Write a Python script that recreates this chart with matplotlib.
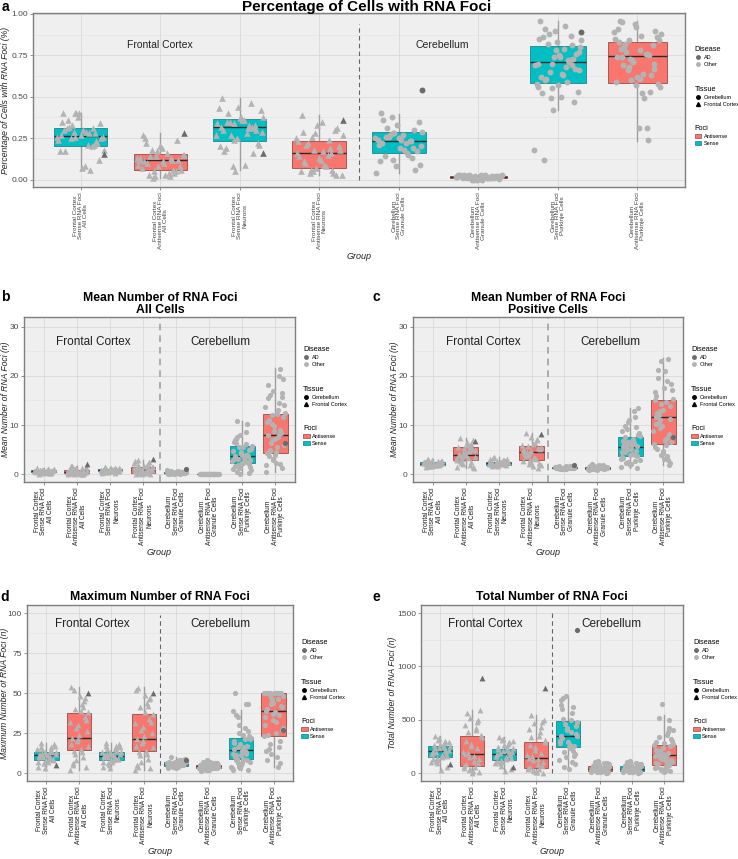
import matplotlib
matplotlib.use("Agg")
import matplotlib.pyplot as plt
from matplotlib import font_manager
from matplotlib.lines import Line2D
from matplotlib.patches import Patch
from matplotlib.ticker import MultipleLocator

_names = {f.name for f in font_manager.fontManager.ttflist}
BASE_FONT = 'Liberation Sans' if 'Liberation Sans' in _names else 'DejaVu Sans'
NARROW_FONT = 'Liberation Sans Narrow' if 'Liberation Sans Narrow' in _names else BASE_FONT
plt.rcParams['font.family'] = [BASE_FONT, 'DejaVu Sans']

# groups (same order in every panel)
group_labels = [
    "Frontal Cortex\nSense RNA Foci\nAll Cells",
    "Frontal Cortex\nAntisense RNA Foci\nAll Cells",
    "Frontal Cortex\nSense RNA Foci\nNeurons",
    "Frontal Cortex\nAntisense RNA Foci\nNeurons",
    "Cerebellum\nSense RNA Foci\nGranule Cells",
    "Cerebellum\nAntisense RNA Foci\nGranule Cells",
    "Cerebellum\nSense RNA Foci\nPurkinje Cells",
    "Cerebellum\nAntisense RNA Foci\nPurkinje Cells",
]
foci = ["Sense", "Antisense"] * 4
tissue = ["Frontal Cortex"] * 4 + ["Cerebellum"] * 4

# ---- panel a: percentage of cells with RNA foci ----
a_med = [0.263, 0.12, 0.317, 0.16, 0.235, 0.015, 0.711, 0.745]
a_q1 = [0.205, 0.056, 0.235, 0.07, 0.16, 0.01, 0.582, 0.586]
a_q3 = [0.311, 0.155, 0.367, 0.235, 0.285, 0.02, 0.807, 0.831]
a_lo = [0.056, 0.01, 0.056, 0.03, 0.04, 0.0, 0.42, 0.23]
a_hi = [0.40, 0.28, 0.49, 0.39, 0.395, 0.03, 0.96, 0.96]
a_pts = [
    [0.40, 0.31, 0.26, 0.18, 0.29, 0.36, 0.22, 0.40, 0.27, 0.06, 0.33, 0.25, 0.30, 0.17, 0.28, 0.40, 0.24, 0.21, 0.32,
     0.12, 0.27, 0.35, 0.20, 0.29, 0.26, 0.08, 0.31, 0.23, 0.38, 0.17, 0.28, 0.25, 0.34, 0.07, 0.30, 0.21, 0.40, 0.26],
    [0.27, 0.12, 0.05, 0.15, 0.03, 0.10, 0.24, 0.08, 0.13, 0.02, 0.18, 0.06, 0.11, 0.25, 0.04, 0.14, 0.09, 0.16, 0.03,
     0.12, 0.20, 0.07, 0.13, 0.01, 0.15, 0.10, 0.22, 0.05, 0.17, 0.12, 0.04, 0.14, 0.08, 0.19, 0.11, 0.06, 0.02, 0.13],
    [0.49, 0.32, 0.24, 0.38, 0.09, 0.35, 0.30, 0.44, 0.20, 0.33, 0.27, 0.42, 0.36, 0.17, 0.31, 0.05, 0.34, 0.28, 0.40,
     0.22, 0.37, 0.32, 0.46, 0.08, 0.29, 0.36, 0.19, 0.33, 0.25, 0.43, 0.31, 0.35, 0.21, 0.38, 0.30, 0.16, 0.34, 0.27],
    [0.39, 0.16, 0.05, 0.27, 0.09, 0.21, 0.03, 0.33, 0.14, 0.24, 0.06, 0.18, 0.35, 0.11, 0.04, 0.28, 0.16, 0.08, 0.22,
     0.31, 0.13, 0.05, 0.19, 0.26, 0.03, 0.17, 0.10, 0.30, 0.07, 0.23, 0.15, 0.04, 0.20, 0.12, 0.29, 0.06, 0.18, 0.25],
    [0.40, 0.23, 0.12, 0.29, 0.18, 0.26, 0.06, 0.33, 0.21, 0.15, 0.27, 0.09, 0.24, 0.36, 0.19, 0.28, 0.04, 0.22, 0.31,
     0.17, 0.25, 0.11, 0.23, 0.38, 0.20, 0.27, 0.14, 0.30, 0.08, 0.24, 0.16, 0.26, 0.35, 0.19, 0.22, 0.13, 0.28, 0.25],
    [0.02, 0.01, 0.00, 0.03, 0.01, 0.02, 0.015, 0.00, 0.025, 0.01, 0.02, 0.005, 0.03, 0.01, 0.02, 0.00, 0.015, 0.025,
     0.01, 0.02, 0.005, 0.03, 0.015, 0.01, 0.02, 0.00, 0.025, 0.01, 0.02, 0.015, 0.01, 0.03, 0.02, 0.005, 0.015, 0.01],
    [0.96, 0.72, 0.55, 0.84, 0.63, 0.91, 0.47, 0.78, 0.70, 0.59, 0.88, 0.66, 0.74, 0.52, 0.81, 0.42, 0.69, 0.93, 0.61,
     0.76, 0.57, 0.85, 0.71, 0.49, 0.80, 0.64, 0.12, 0.73, 0.90, 0.58, 0.68, 0.82, 0.53, 0.75, 0.62, 0.87, 0.70, 0.18,
     0.79, 0.60, 0.67, 0.83, 0.56, 0.72, 0.65, 0.77, 0.50, 0.86, 0.69, 0.74],
    [0.96, 0.75, 0.60, 0.88, 0.52, 0.80, 0.67, 0.92, 0.74, 0.31, 0.84, 0.58, 0.78, 0.95, 0.63, 0.71, 0.85, 0.49, 0.77,
     0.90, 0.62, 0.83, 0.24, 0.73, 0.56, 0.87, 0.69, 0.81, 0.94, 0.59, 0.76, 0.66, 0.86, 0.31, 0.79, 0.53, 0.72, 0.89,
     0.64, 0.82, 0.70, 0.57, 0.91, 0.76, 0.68, 0.84, 0.61, 0.74],
]
a_ad = [[0.155], [0.28], [0.16], [0.36], [0.54], [], [0.89], []]

# ---- panel b: mean number of foci, all cells ----
b_med = [0.6, 0.4, 0.8, 0.8, 0.3, 0.05, 3.7, 7.9]
b_q1 = [0.4, 0.2, 0.6, 0.3, 0.2, 0.02, 2.3, 4.4]
b_q3 = [0.8, 0.9, 1.0, 1.4, 0.45, 0.07, 5.75, 12.2]
b_lo = [0.1, 0.0, 0.2, 0.0, 0.0, 0.0, 0.0, 0.5]
b_hi = [1.2, 1.7, 1.5, 2.9, 0.8, 0.1, 10.9, 21.7]
b_pts = [
    [0.6, 0.9, 0.3, 1.1, 0.5, 0.7, 0.2, 0.8, 0.6, 1.0, 0.4, 0.7, 0.5, 1.2, 0.3, 0.8, 0.6, 0.9, 0.1, 0.7, 0.5, 0.4, 1.0,
     0.6, 0.8, 0.3, 0.7, 0.5, 0.9, 0.6, 0.4, 0.8],
    [0.4, 1.2, 0.1, 0.8, 0.3, 1.6, 0.2, 0.5, 0.9, 0.0, 0.6, 1.4, 0.3, 0.7, 0.1, 1.0, 0.4, 0.2, 1.7, 0.5, 0.9, 0.3, 0.0,
     1.1, 0.4, 0.2, 0.8, 0.6, 1.3, 0.1, 0.5, 0.3],
    [0.8, 1.2, 0.5, 1.0, 0.7, 1.4, 0.6, 0.9, 0.3, 1.1, 0.8, 0.6, 1.3, 0.7, 1.0, 0.4, 0.9, 0.8, 1.5, 0.6, 1.0, 0.7, 0.2,
     0.9, 1.2, 0.8, 0.5, 1.1, 0.7, 0.9, 0.6, 1.0],
    [0.8, 2.1, 0.2, 1.4, 0.5, 2.8, 0.1, 1.1, 0.6, 1.9, 0.3, 0.9, 1.6, 0.0, 2.4, 0.7, 1.2, 0.4, 1.8, 0.8, 0.2, 2.6, 1.0,
     0.5, 1.5, 0.3, 1.3, 0.9, 0.1, 2.2, 0.6, 1.4],
    [0.3, 0.5, 0.1, 0.4, 0.2, 0.7, 0.3, 0.2, 0.6, 0.0, 0.4, 0.3, 0.5, 0.1, 0.3, 0.2, 0.8, 0.4, 0.3, 0.2, 0.5, 0.1, 0.4,
     0.3, 0.2, 0.6, 0.3, 0.4, 0.1, 0.5, 0.2, 0.3, 0.4, 0.2, 0.3, 0.5],
    [0.05, 0.02, 0.08, 0.0, 0.04, 0.1, 0.03, 0.06, 0.01, 0.05, 0.07, 0.02, 0.04, 0.09, 0.0, 0.05, 0.03, 0.06, 0.02, 0.08,
     0.04, 0.01, 0.05, 0.03, 0.07, 0.0, 0.04, 0.06, 0.02, 0.05, 0.03, 0.08, 0.01, 0.04, 0.06, 0.03],
    [3.7, 10.3, 1.2, 5.8, 2.5, 7.6, 0.3, 4.2, 3.0, 8.5, 1.8, 5.1, 2.2, 6.4, 3.6, 0.0, 4.8, 2.7, 10.9, 1.5, 3.9, 6.9, 2.4,
     5.5, 0.8, 3.3, 7.2, 2.0, 4.5, 1.0, 6.1, 3.1, 2.9, 5.6, 1.6, 4.0, 8.0, 2.6, 3.5, 0.5, 5.0, 2.3, 6.6, 3.8, 1.3],
    [7.9, 21.4, 3.0, 12.5, 5.6, 16.2, 1.2, 9.8, 4.3, 19.9, 6.9, 14.0, 2.3, 11.0, 8.4, 17.0, 0.5, 13.1, 4.8, 19.3, 7.1,
     15.5, 2.0, 10.2, 5.9, 12.2, 3.6, 16.5, 8.8, 1.8, 14.5, 6.4, 11.6, 4.5, 18.2, 9.0, 2.8, 13.6, 7.5, 5.0, 15.8, 3.9,
     10.7, 8.1, 12.0],
]
b_ad = [[], [2.0], [], [3.1], [1.0], [], [], [6.3]]

# ---- panel c: mean number of foci, positive cells ----
c_med = [2.1, 4.0, 2.2, 4.5, 1.3, 1.3, 5.6, 11.7]
c_q1 = [1.9, 2.8, 1.9, 2.9, 1.2, 1.1, 3.6, 6.1]
c_q3 = [2.4, 5.5, 2.5, 5.7, 1.4, 1.4, 7.6, 15.1]
c_lo = [1.5, 1.2, 1.6, 1.2, 1.0, 0.9, 1.2, 1.9]
c_hi = [3.0, 7.3, 3.4, 8.4, 1.7, 2.0, 13.4, 23.7]
c_pts = [
    [2.1, 2.6, 1.7, 2.3, 1.9, 2.9, 2.0, 1.6, 2.4, 2.2, 1.8, 2.7, 2.1, 1.5, 2.5, 2.0, 2.3, 1.9, 3.0, 2.2, 1.8, 2.4, 2.0,
     1.7, 2.6, 2.1, 2.3, 1.9, 2.8, 2.2, 1.8, 2.4],
    [4.0, 6.2, 2.1, 5.0, 3.2, 7.3, 1.5, 4.6, 2.8, 5.8, 3.6, 1.2, 6.6, 4.2, 2.5, 5.4, 3.0, 4.9, 2.2, 7.0, 3.8, 5.6, 1.8,
     4.4, 3.4, 6.0, 2.6, 5.2, 3.9, 1.4, 4.8, 3.1],
    [2.2, 2.8, 1.8, 2.5, 2.0, 3.3, 2.3, 1.7, 2.6, 2.1, 1.9, 3.0, 2.4, 1.6, 2.2, 2.7, 2.0, 2.5, 3.4, 1.9, 2.3, 2.1, 2.9,
     1.8, 2.4, 2.2, 2.0, 2.6, 1.9, 3.1, 2.3, 2.1],
    [4.5, 7.2, 2.0, 5.6, 3.3, 8.4, 1.2, 4.8, 2.7, 6.4, 3.8, 5.2, 1.6, 4.1, 6.9, 2.9, 5.9, 3.5, 4.6, 2.3, 7.6, 5.0, 3.0,
     4.3, 1.8, 6.1, 3.7, 5.4, 2.5, 4.9, 3.2, 5.7],
    [1.3, 1.5, 1.1, 1.4, 1.2, 1.6, 1.3, 1.0, 1.4, 1.2, 1.3, 1.5, 1.1, 1.3, 1.7, 1.2, 1.4, 1.3, 1.1, 1.5, 1.2, 1.3, 1.4,
     1.0, 1.3, 1.6, 1.2, 1.4, 1.1, 1.3, 1.5, 1.2, 1.3, 1.4, 1.2, 1.3],
    [1.3, 1.7, 1.0, 1.4, 1.2, 2.0, 1.1, 1.5, 0.9, 1.3, 1.6, 1.2, 1.4, 1.0, 1.8, 1.3, 1.1, 1.5, 1.2, 1.4, 0.9, 1.3, 1.6,
     1.1, 1.2, 1.9, 1.4, 1.0, 1.3, 1.5, 1.2, 1.1, 1.4, 1.3, 1.7, 1.2],
    [5.6, 11.6, 2.4, 7.8, 4.2, 9.8, 1.2, 6.5, 3.5, 12.9, 5.0, 8.4, 2.0, 6.1, 4.8, 10.6, 3.0, 7.2, 5.4, 13.4, 1.8, 6.8,
     4.0, 9.1, 2.8, 5.9, 7.5, 3.7, 11.0, 4.5, 6.3, 2.2, 8.0, 5.2, 3.3, 9.5, 6.0, 1.5, 7.0, 4.6, 5.8, 3.9, 8.7, 2.6, 6.6],
    [11.7, 23.5, 4.0, 15.4, 7.0, 21.2, 2.2, 13.1, 5.6, 19.0, 9.4, 17.2, 3.0, 12.4, 8.2, 23.0, 6.1, 14.6, 10.5, 18.3,
     4.8, 16.0, 2.9, 11.0, 7.6, 21.0, 5.2, 13.8, 9.9, 15.0, 3.6, 12.0, 6.6, 17.6, 10.2, 1.9, 14.2, 8.8, 5.9, 19.5, 11.3,
     4.4, 16.7, 7.3, 12.8],
]
c_ad = [[], [6.8], [], [8.2], [1.8], [], [], [7.6]]

# ---- panel d: maximum number of foci ----
d_med = [11.3, 21.9, 10.8, 21.3, 5.6, 4.2, 14.6, 38.8]
d_q1 = [8.3, 14.6, 8.3, 13.5, 4.2, 3.1, 8.75, 22.9]
d_q3 = [13.3, 37.5, 13.3, 36.9, 6.7, 5.2, 21.9, 50.0]
d_lo = [3, 2, 3, 2, 3, 1, 2, 4]
d_hi = [19, 54, 19, 54, 10, 8, 39.6, 50]
d_pts = [
    [11, 16, 6, 13, 9, 19, 8, 12, 4, 14, 10, 17, 7, 11, 13, 3, 15, 9, 12, 18, 8, 10, 14, 6, 12, 11, 16, 9, 13, 7, 10, 15],
    [22, 45, 8, 38, 15, 52, 4, 30, 18, 41, 12, 26, 48, 6, 35, 20, 2, 43, 14, 33, 24, 54, 10, 28, 17, 39, 5, 47, 21, 32,
     13, 40],
    [11, 17, 5, 13, 8, 19, 9, 12, 4, 15, 10, 16, 7, 11, 14, 3, 13, 9, 12, 18, 8, 10, 14, 6, 12, 11, 17, 9, 13, 7, 10, 15],
    [21, 46, 7, 37, 14, 53, 3, 29, 17, 42, 11, 25, 49, 5, 34, 19, 2, 44, 13, 32, 23, 52, 9, 27, 16, 38, 4, 47, 20, 31,
     12, 41],
    [6, 8, 4, 7, 5, 10, 5, 6, 3, 7, 4, 9, 6, 5, 7, 4, 6, 8, 5, 6, 3, 7, 5, 6, 9, 4, 6, 5, 7, 4, 6, 5, 8, 5, 6, 7],
    [4, 6, 2, 5, 3, 7, 4, 5, 1, 4, 3, 6, 5, 2, 4, 8, 3, 5, 4, 6, 2, 4, 3, 5, 4, 7, 3, 4, 2, 5, 4, 6, 3, 5, 4, 3],
    [15, 43, 4, 22, 9, 36, 2, 18, 12, 28, 6, 21, 14, 50, 8, 25, 3, 16, 11, 43, 5, 20, 13, 35, 7, 24, 10, 17, 3, 39, 14,
     9, 23, 6, 19, 12, 30, 4, 15, 8, 26, 11, 2, 21, 16],
    [39, 50, 12, 48, 25, 50, 6, 44, 30, 50, 18, 41, 50, 8, 36, 46, 23, 50, 15, 42, 33, 50, 4, 47, 28, 38, 50, 20, 45, 35,
     10, 49, 27, 50, 40, 16, 43, 50, 32, 24, 50, 37, 14, 46, 50],
]
d_ad = [[5], [50], [], [50], [8], [], [], [27]]

# ---- panel e: total number of foci ----
e_med = [210, 182, 182, 144, 345, 35, 35, 170]
e_q1 = [150, 66, 125, 47, 245, 16, 16, 78]
e_q3 = [251, 345, 229, 292, 486, 63, 63, 267]
e_lo = [30, 0, 20, 0, 40, 0, 0, 10]
e_hi = [350, 590, 340, 545, 720, 110, 110, 543]
e_pts = [
    [210, 300, 120, 250, 170, 350, 60, 230, 190, 280, 140, 220, 30, 260, 180, 310, 100, 240, 200, 160, 270, 130, 215,
     90, 290, 150, 235, 205, 330, 175, 245, 110],
    [180, 480, 40, 340, 110, 560, 10, 250, 70, 420, 150, 590, 20, 300, 90, 520, 200, 60, 380, 130, 0, 450, 230, 30, 360,
     160, 80, 500, 270, 50, 400, 190],
    [180, 290, 100, 230, 150, 340, 40, 210, 160, 270, 120, 195, 20, 245, 170, 310, 90, 220, 185, 140, 260, 110, 200, 70,
     300, 130, 225, 175, 320, 155, 240, 95],
    [145, 430, 20, 290, 80, 545, 0, 220, 50, 380, 120, 500, 10, 260, 70, 470, 170, 35, 340, 100, 5, 410, 190, 25, 310,
     130, 60, 480, 240, 40, 350, 160],
    [345, 620, 150, 480, 260, 700, 80, 400, 300, 560, 200, 440, 40, 330, 250, 720, 120, 380, 510, 180, 290, 640, 100,
     460, 350, 230, 600, 160, 420, 280, 500, 60, 370, 240, 680, 210],
    [35, 80, 10, 60, 20, 105, 0, 45, 25, 90, 15, 55, 5, 70, 30, 110, 12, 50, 40, 95, 8, 65, 22, 38, 85, 18, 58, 2, 75,
     28, 48, 100, 14, 42, 62, 32],
    [35, 78, 12, 62, 22, 100, 2, 46, 24, 92, 16, 55, 6, 72, 30, 108, 10, 50, 40, 88, 8, 66, 20, 36, 84, 18, 60, 4, 74,
     28, 48, 96, 14, 44, 64, 30],
    [170, 420, 40, 270, 110, 520, 15, 230, 90, 380, 140, 300, 20, 200, 75, 650, 160, 60, 340, 125, 10, 290, 190, 30,
     400, 150, 85, 250, 180, 45, 360, 210, 100, 280, 55, 500, 130, 260, 65, 175, 320, 25, 220, 115, 155],
]
e_ad = [[80], [890], [60], [800], [1340], [], [], []]

FILL = {"Sense": "#00BFC4", "Antisense": "#F8766D"}
EDGE = {"Sense": "#2F8F92", "Antisense": "#A65A55"}
POS = list(range(1, 9))

fig = plt.figure(figsize=(7.38, 8.59), dpi=100)


def add_ax(l, t, r, b):
    return fig.add_axes([l / 738, 1 - b / 859, (r - l) / 738, (b - t) / 859])


def jitter(n, amp=0.3):
    return [amp * (((i * 0.6180339887 + 0.137) % 1) * 2 - 1) for i in range(n)]


def draw(ax, pts, ad, med, q1, q3, lo, hi, widths, ylim, yticks, yfmt, ylabel, ylab_x,
         vline, ann, ann_size, xlab_size, xlab_color, leg_x, leg_y, s=14):
    ax.set_facecolor("#EFEFEF")
    stats = [dict(med=m, q1=a, q3=b, whislo=l, whishi=h) for m, a, b, l, h in zip(med, q1, q3, lo, hi)]
    bp = ax.bxp(stats, positions=POS, widths=widths, patch_artist=True, showfliers=False, showcaps=False,
                manage_ticks=False,
                boxprops=dict(linewidth=0.7, zorder=2),
                medianprops=dict(color="#2B2B2B", linewidth=1.0, zorder=2.2),
                whiskerprops=dict(color="#9E9E9E", linewidth=1.0, zorder=1.8))
    for patch, f in zip(bp["boxes"], foci):
        patch.set_facecolor(FILL[f])
        patch.set_edgecolor(EDGE[f])
    for i, (vals, advals) in enumerate(zip(pts, ad)):
        mk = "^" if tissue[i] == "Frontal Cortex" else "o"
        ss = s * 1.25 if mk == "^" else s
        xs = [POS[i] + j for j in jitter(len(vals))]
        ax.scatter(xs, vals, marker=mk, s=ss, color="#B3B3B3", lw=0, zorder=3)
        xa = [POS[i] + j for j in jitter(len(advals) + 3)[3:]]
        ax.scatter(xa, advals, marker=mk, s=ss, color="#6B6B6B", lw=0, zorder=3.1)

    ax.plot([4.5, 4.5], vline[:2], ls=(0, (4, 3)), color=vline[2], lw=vline[3], zorder=1.5)
    ax.text(ann[0], ann[2], "Frontal Cortex", ha="center", va="center", fontsize=ann_size, color="#222222")
    ax.text(ann[1], ann[2], "Cerebellum", ha="center", va="center", fontsize=ann_size, color="#222222")

    ax.set_xlim(0.4, 8.6)
    ax.set_ylim(*ylim)
    ax.set_xticks(POS)
    ax.set_xticklabels(group_labels, rotation=90, ha="center", va="top", multialignment="center",
                       fontsize=xlab_size, color=xlab_color, linespacing=0.95)
    ax.set_yticks(yticks)
    ax.set_yticklabels([yfmt.format(v) for v in yticks], fontsize=6, color="#4D4D4D")
    ax.yaxis.set_minor_locator(MultipleLocator((yticks[1] - yticks[0]) / 2))
    ax.set_axisbelow(True)
    ax.grid(which="major", color="#D9D9D9", lw=0.6)
    ax.grid(which="minor", axis="y", color="#E2E2E2", lw=0.4)
    ax.tick_params(which="major", length=2.5, width=0.6, color="#7F7F7F", pad=1.2)
    ax.tick_params(which="minor", length=0)
    for sp in ax.spines.values():
        sp.set_color("#7F7F7F")
        sp.set_linewidth(1.0)
    ax.set_ylabel(ylabel, fontsize=6.2, style="italic", color="#222222")
    ax.yaxis.set_label_coords(ylab_x, 0.5)
    ax.set_xlabel("Group", fontsize=6.5, style="italic", color="#222222", labelpad=2)

    # legends
    kw = dict(loc="upper left", frameon=False, fontsize=4.0, title_fontsize=5.3, handlelength=1.2,
              handletextpad=0.4, borderaxespad=0, borderpad=0, labelspacing=0.35)
    l1 = ax.legend(handles=[Line2D([], [], marker="o", ls="", color="#6B6B6B", ms=2.5),
                            Line2D([], [], marker="o", ls="", color="#B3B3B3", ms=2.5)],
                   labels=["AD", "Other"], title="Disease", bbox_to_anchor=(leg_x, leg_y[0]), **kw)
    l1._legend_box.align = "left"
    ax.add_artist(l1)
    l2 = ax.legend(handles=[Line2D([], [], marker="o", ls="", color="black", ms=2.5),
                            Line2D([], [], marker="^", ls="", color="black", ms=2.8)],
                   labels=["Cerebellum", "Frontal Cortex"], title="Tissue", bbox_to_anchor=(leg_x, leg_y[1]), **kw)
    l2._legend_box.align = "left"
    ax.add_artist(l2)
    l3 = ax.legend(handles=[Patch(facecolor=FILL["Antisense"], edgecolor=EDGE["Antisense"], lw=0.6),
                            Patch(facecolor=FILL["Sense"], edgecolor=EDGE["Sense"], lw=0.6)],
                   labels=["Antisense", "Sense"], title="Foci", bbox_to_anchor=(leg_x, leg_y[2]), **kw)
    l3._legend_box.align = "left"


ax_a = add_ax(33, 13, 685, 187)
draw(ax_a, a_pts, a_ad, a_med, a_q1, a_q3, a_lo, a_hi,
     [0.66, 0.67, 0.67, 0.68, 0.68, 0.72, 0.71, 0.74],
     (-0.045, 1.006), [0, 0.25, 0.5, 0.75, 1.0], "{:.2f}",
     "Percentage of Cells with RNA Foci (%)", -0.036,
     (0, 0.94, "#666666", 0.8), (2.0, 5.55, 0.81), 7.5, 4.6, "#444444",
     1.015, (0.81, 0.58, 0.356), s=18)

ax_b = add_ax(24, 317, 295, 482)
draw(ax_b, b_pts, b_ad, b_med, b_q1, b_q3, b_lo, b_hi, 0.75,
     (-1.6, 32), [0, 10, 20, 30], "{:.0f}",
     "Mean Number of RNA Foci (n)", -0.052,
     (-1.6, 32, "#A0A0A0", 1.2), (2.5, 6.35, 27), 8.5, 4.7, "#1A1A1A",
     1.03, (0.824, 0.582, 0.345))

ax_c = add_ax(413, 317, 683, 482)
draw(ax_c, c_pts, c_ad, c_med, c_q1, c_q3, c_lo, c_hi, 0.75,
     (-1.6, 32), [0, 10, 20, 30], "{:.0f}",
     "Mean Number of RNA Foci (n)", -0.052,
     (-1.6, 32, "#A0A0A0", 1.2), (2.55, 6.4, 27), 8.5, 4.7, "#1A1A1A",
     1.03, (0.824, 0.582, 0.345))

ax_d = add_ax(27, 605, 293, 781)
draw(ax_d, d_pts, d_ad, d_med, d_q1, d_q3, d_lo, d_hi, 0.75,
     (-5, 105), [0, 25, 50, 75, 100], "{:.0f}",
     "Maximum Number of RNA Foci (n)", -0.066,
     (0, 99, "#666666", 0.8), (2.4, 6.35, 93), 8.5, 4.7, "#1A1A1A",
     1.03, (0.807, 0.58, 0.358))

ax_e = add_ax(421, 605, 683, 781)
draw(ax_e, e_pts, e_ad, e_med, e_q1, e_q3, e_lo, e_hi, 0.75,
     (-75, 1575), [0, 500, 1000, 1500], "{:.0f}",
     "Total Number of RNA Foci (n)", -0.09,
     (0, 1500, "#666666", 0.8), (2.4, 6.35, 1400), 8.5, 4.7, "#1A1A1A",
     1.038, (0.807, 0.58, 0.358))


def ftext(x, y, s, **kw):
    fig.text(x / 738, 1 - y / 859, s, **kw)


ftext(367, 7, "Percentage of Cells with RNA Foci", ha="center", va="center", fontsize=11, fontweight="bold")
ftext(160, 304, "Mean Number of RNA Foci\nAll Cells", ha="center", va="center", fontsize=8.8,
      fontweight="bold", family=NARROW_FONT, linespacing=1.05)
ftext(548, 304, "Mean Number of RNA Foci\nPositive Cells", ha="center", va="center", fontsize=8.8,
      fontweight="bold", family=NARROW_FONT, linespacing=1.05)
ftext(160, 597, "Maximum Number of RNA Foci", ha="center", va="center", fontsize=8.8,
      fontweight="bold", family=NARROW_FONT)
ftext(552, 597, "Total Number of RNA Foci", ha="center", va="center", fontsize=8.8,
      fontweight="bold", family=NARROW_FONT)

for lab, x, y in [("a", 5, 7), ("b", 5, 297), ("c", 376, 297), ("d", 5, 597), ("e", 376, 597)]:
    ftext(x, y, lab, ha="center", va="center", fontsize=10, fontweight="bold")

fig.savefig("out.png", dpi=100)
